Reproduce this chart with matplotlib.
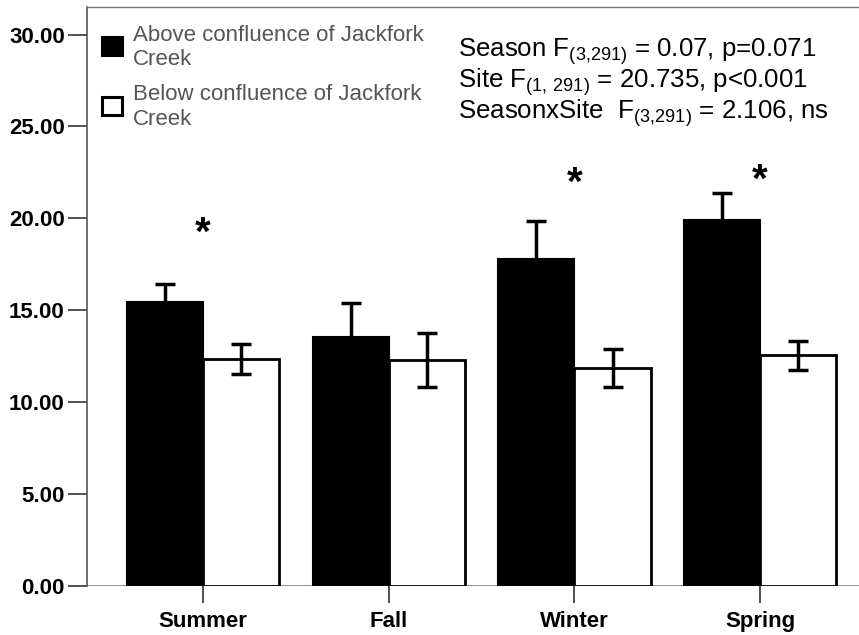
import matplotlib
matplotlib.use("Agg")
import matplotlib.pyplot as plt
import numpy as np
from matplotlib.patches import Rectangle

plt.rcParams['font.family'] = ['Liberation Sans', 'DejaVu Sans']
plt.rcParams['mathtext.fontset'] = 'custom'
plt.rcParams['mathtext.rm'] = 'Liberation Sans'
plt.rcParams['mathtext.default'] = 'regular'

seasons = ["Summer", "Fall", "Winter", "Spring"]
above_mean = [15.45, 13.55, 17.8, 19.9]
above_err = [1.0, 1.85, 2.05, 1.5]
below_mean = [12.35, 12.3, 11.85, 12.55]
below_err = [0.8, 1.45, 1.05, 0.8]
star_seasons = ["Summer", "Winter", "Spring"]
star_y = [18.55, 21.3, 21.45]
yticks = [0, 5, 10, 15, 20, 25, 30]
stats_lines = [r"Season F$_{(3{,}291)}$ = 0.07, p=0.071",
               r"Site F$_{(1{,}\ 291)}$ = 20.735, p<0.001",
               r"SeasonxSite  F$_{(3{,}291)}$ = 2.106, ns"]
legend_labels = [["Above confluence of Jackfork", "Creek"],
                 ["Below confluence of Jackfork", "Creek"]]

W, H = 859, 635
fig = plt.figure(figsize=(W/100, H/100), dpi=100)
ax = fig.add_axes([87/W, 1-586/H, 1-87/W, (586-7)/H])

x = np.arange(len(seasons))
w = 0.41
ax.bar(x - w/2, above_mean, w, color='black', edgecolor='black', linewidth=1.5, zorder=2)
ax.bar(x + w/2, below_mean, w, color='white', edgecolor='black', linewidth=2, zorder=2)
ax.errorbar(x - w/2, above_mean, yerr=above_err, fmt='none', ecolor='black',
            elinewidth=2.5, capsize=7.2, capthick=2.5, zorder=3)
ax.errorbar(x + w/2, below_mean, yerr=below_err, fmt='none', ecolor='black',
            elinewidth=2.5, capsize=7.2, capthick=2.5, zorder=3)

for s, yy in zip(star_seasons, star_y):
    i = seasons.index(s)
    ax.text(i, yy, "*", ha='center', va='baseline', fontsize=29, fontweight='bold')

ax.set_xlim(-0.624, 3.532)
ax.set_ylim(0, 31.5)
ax.set_yticks(yticks)
ax.set_yticklabels([f"{v:.2f}" for v in yticks], fontsize=16, fontweight='bold')
ax.set_xticks(x)
ax.set_xticklabels(seasons, fontsize=16, fontweight='bold')
ax.tick_params(axis='y', length=14, width=1.2, color='#333333', pad=2)
ax.tick_params(axis='x', length=12, width=1.2, color='#333333', pad=6)

for sp in ['right', 'bottom']:
    ax.spines[sp].set_visible(False)
ax.spines['left'].set_color('#555555')
ax.spines['left'].set_linewidth(1.2)
ax.spines['top'].set_color('#777777')
ax.spines['top'].set_linewidth(1.0)

ax.axhline(0, color='#888888', linewidth=2, zorder=1)

# legend drawn manually
sq = [(102, 37, 'black'), (102, 97, 'white')]
for (sx, sy, fc) in sq:
    fig.patches.append(Rectangle((sx/W, 1-(sy+18)/H), 20/W, 18/H, transform=fig.transFigure,
                                 facecolor=fc, edgecolor='black', linewidth=2.2))
baselines = [[41, 65], [100, 125]]
for lab, bl in zip(legend_labels, baselines):
    for line, b in zip(lab, bl):
        fig.text(133/W, 1-b/H, line, fontsize=16, color='#555555', ha='left', va='baseline')

for i, line in enumerate(stats_lines):
    fig.text(458/W, 1 - (57 + i*31)/H, line, fontsize=18.6, ha='left', va='baseline')

fig.savefig("out.png", dpi=100)
